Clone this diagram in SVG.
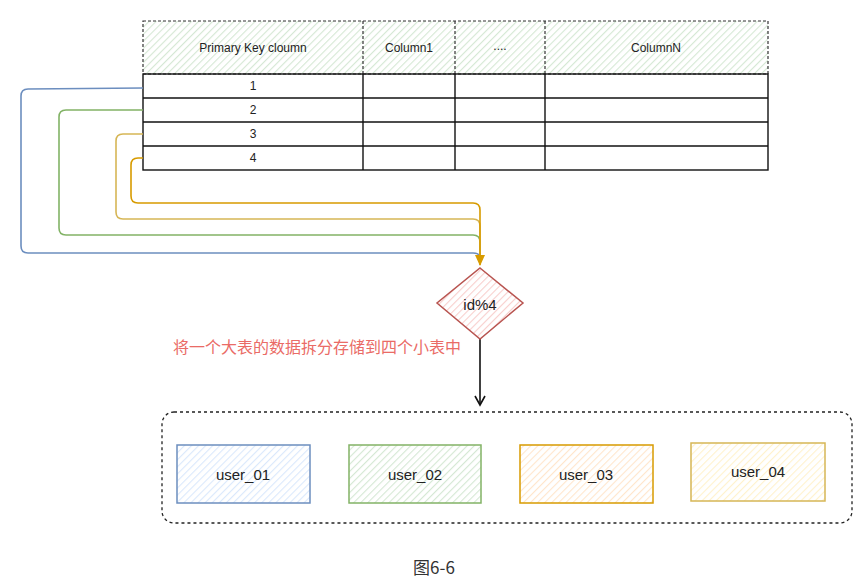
<svg xmlns="http://www.w3.org/2000/svg" width="863" height="579" viewBox="0 0 863 579">
<style>
text{font-family:"Liberation Sans",Arial,sans-serif;text-anchor:middle;dominant-baseline:central}
.hdr{font-size:12px;fill:#222}
.num{font-size:12px;fill:#222}
.box{font-size:15px;fill:#222}
.grid{stroke:#111;stroke-width:1.4;fill:none}
.conn{fill:none;stroke-width:1.6;stroke-linejoin:round}
</style>
<defs>
<pattern id="hG" width="5" height="5" patternUnits="userSpaceOnUse" patternTransform="rotate(45)"><rect width="5" height="5" fill="#fff"/><line x1="0" y1="0" x2="0" y2="5" stroke="#d5e8d4" stroke-width="2.2"/></pattern>
<pattern id="hB" width="5" height="5" patternUnits="userSpaceOnUse" patternTransform="rotate(45)"><rect width="5" height="5" fill="#fff"/><line x1="0" y1="0" x2="0" y2="5" stroke="#dae8fc" stroke-width="2.2"/></pattern>
<pattern id="hO" width="5" height="5" patternUnits="userSpaceOnUse" patternTransform="rotate(45)"><rect width="5" height="5" fill="#fff"/><line x1="0" y1="0" x2="0" y2="5" stroke="#ffe6cc" stroke-width="2.2"/></pattern>
<pattern id="hY" width="5" height="5" patternUnits="userSpaceOnUse" patternTransform="rotate(45)"><rect width="5" height="5" fill="#fff"/><line x1="0" y1="0" x2="0" y2="5" stroke="#fff2cc" stroke-width="2.2"/></pattern>
<pattern id="hR" width="5" height="5" patternUnits="userSpaceOnUse" patternTransform="rotate(45)"><rect width="5" height="5" fill="#fff"/><line x1="0" y1="0" x2="0" y2="5" stroke="#f8cecc" stroke-width="2.2"/></pattern>
<marker id="aB" markerWidth="10" markerHeight="10" refX="8" refY="5" orient="auto" markerUnits="userSpaceOnUse"><path d="M0,1 L9,5 L0,9 Z" fill="#6c8ebf"/></marker>
<marker id="aG" markerWidth="10" markerHeight="10" refX="8" refY="5" orient="auto" markerUnits="userSpaceOnUse"><path d="M0,1 L9,5 L0,9 Z" fill="#82b366"/></marker>
<marker id="aY" markerWidth="10" markerHeight="10" refX="8" refY="5" orient="auto" markerUnits="userSpaceOnUse"><path d="M0,1 L9,5 L0,9 Z" fill="#d6b656"/></marker>
<marker id="aO" markerWidth="12" markerHeight="12" refX="10" refY="6" orient="auto" markerUnits="userSpaceOnUse"><path d="M0,1 L11,6 L0,11 Z" fill="#d79b00"/></marker>
<marker id="aK" markerWidth="12" markerHeight="12" refX="10" refY="6" orient="auto" markerUnits="userSpaceOnUse"><path d="M1,1 L10,6 L1,11" fill="none" stroke="#111" stroke-width="1.6"/></marker>
</defs>

<g id="table">
<rect x="143" y="21" width="625" height="53" fill="url(#hG)" stroke="#333" stroke-width="1.2" stroke-dasharray="3,2"/>
<line x1="363" y1="21" x2="363" y2="74" stroke="#333" stroke-width="1.2" stroke-dasharray="3,2"/>
<line x1="455" y1="21" x2="455" y2="74" stroke="#333" stroke-width="1.2" stroke-dasharray="3,2"/>
<line x1="545" y1="21" x2="545" y2="74" stroke="#333" stroke-width="1.2" stroke-dasharray="3,2"/>
<text class="hdr" x="253" y="48">Primary Key cloumn</text>
<text class="hdr" x="409" y="48">Column1</text>
<text class="hdr" x="500" y="46" fill="#666">....</text>
<text class="hdr" x="656" y="48">ColumnN</text>
<rect x="143" y="74" width="625" height="96" class="grid" fill="#fff"/>
<line x1="143" y1="98" x2="768" y2="98" class="grid"/>
<line x1="143" y1="122" x2="768" y2="122" class="grid"/>
<line x1="143" y1="146" x2="768" y2="146" class="grid"/>
<line x1="363" y1="74" x2="363" y2="170" class="grid"/>
<line x1="455" y1="74" x2="455" y2="170" class="grid"/>
<line x1="545" y1="74" x2="545" y2="170" class="grid"/>
<text class="num" x="253" y="86" fill="#3a2a6a">1</text>
<text class="num" x="253" y="110">2</text>
<text class="num" x="253" y="134">3</text>
<text class="num" x="253" y="158">4</text>
</g>

<g id="connectors">
<path class="conn" stroke="#6c8ebf" d="M143,88 L28,89 Q21,89 21,96 L21,246 Q21,253 28,253 L473,253 Q480,253 480,258 L480,263" marker-end="url(#aB)"/>
<path class="conn" stroke="#82b366" d="M143,110 L66,110 Q59,110 59,117 L59,228 Q59,235 66,235 L473,235 Q480,235 480,242 L480,263" marker-end="url(#aG)"/>
<path class="conn" stroke="#d6b656" d="M143,134 L123,134 Q116,134 116,141 L116,212 Q116,219 123,219 L473,219 Q480,219 480,226 L480,263" marker-end="url(#aY)"/>
<path class="conn" stroke="#d79b00" stroke-width="2" d="M143,158 L138,158 Q131,158 131,165 L131,196 Q131,203 138,203 L473,203 Q480,203 480,210 L480,265" marker-end="url(#aO)"/>
<path class="conn" stroke="#111" d="M480,339 L480,405" marker-end="url(#aK)"/>
</g>

<g id="diamond">
<polygon points="480,268 523,303 480,339 437,303" fill="url(#hR)" stroke="#b85450" stroke-width="1.5"/>
<text x="480" y="304" style="font-size:15px;fill:#222">id%4</text>
</g>

<g id="label">
<text x="317" y="346" style="font-family:'Noto Sans CJK SC',sans-serif;font-size:16px;fill:#ea6b66">将一个大表的数据拆分存储到四个小表中</text>
</g>

<g id="container">
<rect x="162" y="412" width="690" height="111" rx="12" fill="none" stroke="#222" stroke-width="1.3" stroke-dasharray="3,3"/>
</g>

<g id="user_01">
<rect x="177" y="445" width="133" height="58" fill="url(#hB)" stroke="#6c8ebf" stroke-width="1.5"/>
<text class="box" x="243" y="474">user_01</text>
</g>
<g id="user_02">
<rect x="349" y="445" width="132" height="58" fill="url(#hG)" stroke="#82b366" stroke-width="1.5"/>
<text class="box" x="415" y="474">user_02</text>
</g>
<g id="user_03">
<rect x="520" y="445" width="133" height="58" fill="url(#hO)" stroke="#d79b00" stroke-width="1.5"/>
<text class="box" x="586" y="474">user_03</text>
</g>
<g id="user_04">
<rect x="691" y="443" width="134" height="58" fill="url(#hY)" stroke="#d6b656" stroke-width="1.5"/>
<text class="box" x="758" y="471">user_04</text>
</g>

<g id="caption">
<text x="434" y="566" style="font-family:'Noto Sans CJK SC',sans-serif;font-size:17px;fill:#333">图6-6</text>
</g>
</svg>
